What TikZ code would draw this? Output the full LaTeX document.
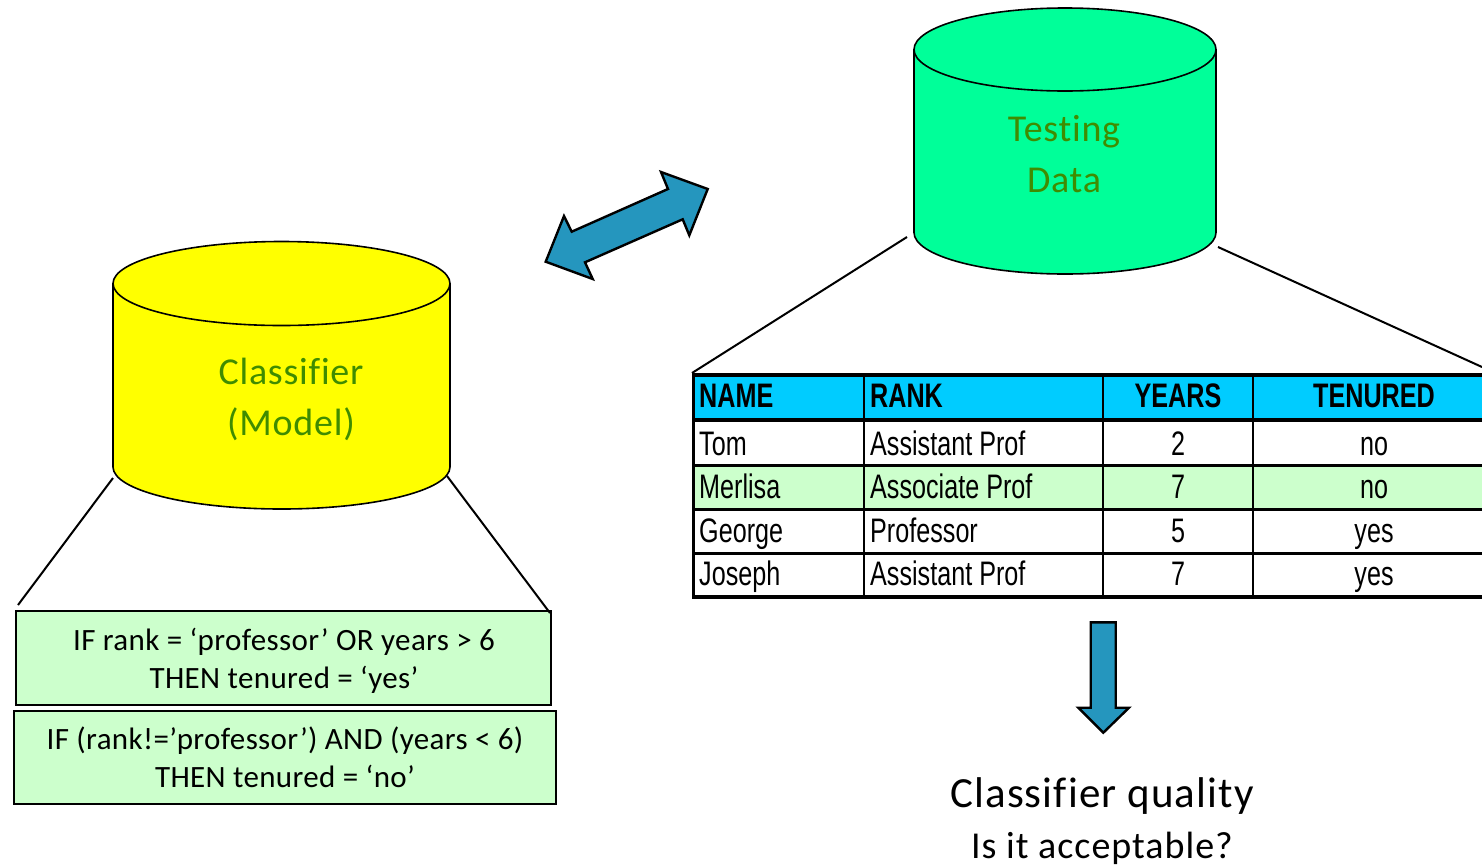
\documentclass[tikz,border=0pt]{standalone}
\usepackage{fontspec}
\setmainfont{Carlito}[Ligatures={NoCommon}]
\newfontfamily\tablefont[FakeStretch=0.74]{Liberation Sans}
\newfontfamily\rulefont[LetterSpace=1.2,Ligatures={NoCommon}]{Carlito}
\newfontfamily\drumfont[LetterSpace=2,Ligatures={NoCommon}]{Carlito}
\newfontfamily\askfont[LetterSpace=2.6,Ligatures={NoCommon}]{Carlito}
\definecolor{arrowblue}{HTML}{2596BE}
\definecolor{headblue}{HTML}{00CCFF}
\definecolor{rowgreen}{HTML}{CCFFCC}
\definecolor{testgreen}{HTML}{00FF99}
\definecolor{drumyellow}{HTML}{FFFF00}
\definecolor{labelgreen}{HTML}{3F8C00}
\tikzset{
    drum/.style={draw=black, line width=1.6pt},
    drumtext/.style={text=labelgreen, font=\drumfont\fontsize{38}{51}\selectfont, align=center},
    wire/.style={draw=black, line width=2pt},
    rulebox/.style={draw=black, line width=2.4pt, fill=rowgreen, inner sep=0pt, outer sep=0pt},
    ruletext/.style={align=center, inner sep=0pt, font=\rulefont\fontsize{31}{38}\selectfont},
    blockarrow/.style={draw=black, line width=2.4pt, fill=arrowblue, line join=miter},
    celltext/.style={font=\tablefont\fontsize{34}{34}\selectfont, inner sep=0pt},
    headtext/.style={font=\tablefont\bfseries\fontsize{34}{34}\selectfont, inner sep=0pt},
    asktext/.style={font=\askfont\fontsize{#1}{#1}\selectfont, inner sep=0pt}
}
\begin{document}
\begin{tikzpicture}[x=1pt, y=-1pt]
    \useasboundingbox (0,0) rectangle (1482,865);
    % Drums and their labels:
    \draw[drum, fill=testgreen] (914, 49.5) -- (914, 232.5) arc[start angle=180, end angle=360, x radius=151pt, y radius=41.5pt] -- (1216, 49.5) arc[start angle=0, end angle=180, x radius=151pt, y radius=41.5pt] -- cycle;
    \draw[drum] (914, 49.5) arc[start angle=180, end angle=360, x radius=151pt, y radius=41.5pt];
    \node[drumtext] (testinglabel) at (1064, 154){Testing\\Data};
    \draw[drum, fill=drumyellow] (113, 283.5) -- (113, 467) arc[start angle=180, end angle=360, x radius=168.5pt, y radius=42pt] -- (450, 283.5) arc[start angle=0, end angle=180, x radius=168.5pt, y radius=42pt] -- cycle;
    \draw[drum] (113, 283.5) arc[start angle=180, end angle=360, x radius=168.5pt, y radius=42pt];
    \node[drumtext] (classifierlabel) at (291, 399){Classifier\\(Model)};
    % Rule boxes:
    \node[rulebox, minimum width=535pt, minimum height=94pt](ruleyes) at (283.5, 658){};
    \node[ruletext] (ruleyestext) at (284, 661){IF rank = ‘professor’ OR years > 6\\THEN tenured = ‘yes’};
    \node[rulebox, minimum width=542pt, minimum height=93pt](ruleno) at (285, 757.5){};
    \node[ruletext] (rulenotext) at (285, 757.5){IF (rank!=’professor’) AND (years < 6)\\THEN tenured = ‘no’};
    % Table fills and rules:
    \fill[headblue] (693, 375) rectangle (1482, 420);
    \fill[rowgreen] (693, 465) rectangle (1482, 509);
    \draw[line width=4pt] (692, 375) -- (1482, 375);
    \draw[line width=4pt] (693, 420) -- (1482, 420);
    \draw[line width=3pt] (693, 465) -- (1482, 465);
    \draw[line width=3pt] (693, 509) -- (1482, 509);
    \draw[line width=3pt] (693, 553) -- (1482, 553);
    \draw[line width=4pt] (692, 597) -- (1482, 597);
    \foreach \colx/\colw in {693/3, 864/2, 1103/2, 1253/2}
        \draw[line width=\colw pt] (\colx, 375) -- (\colx, 597);
    \foreach \rowy/\rowname/\rowrank/\rowyears/\rowten in {455/Tom/Assistant Prof/2/no, 498/Merlisa/Associate Prof/7/no, 542/George/Professor/5/yes, 585/Joseph/Assistant Prof/7/yes}{
        \node[celltext, anchor=base west] at (699, \rowy){\rowname};
        \node[celltext, anchor=base west] at (870, \rowy){\rowrank};
        \node[celltext, anchor=base] at (1178, \rowy){\rowyears};
        \node[celltext, anchor=base] at (1374, \rowy){\rowten};
    }
    \node[headtext, anchor=base west] (namehead) at (699, 407){NAME};
    \node[headtext, anchor=base west] (rankhead) at (870, 407){RANK};
    \node[headtext, anchor=base] (yearshead) at (1178, 407){YEARS};
    \node[headtext, anchor=base] (tenuredhead) at (1374, 407){TENURED};
    % Wires:
    \coordinate (TL) at (907, 237);
    \coordinate (TT) at (692, 373);
    \coordinate (TR) at (1218, 247);
    \coordinate (TS) at (1482, 367);
    \coordinate (CL) at (113, 478);
    \coordinate (CB) at (18, 605);
    \coordinate (CR) at (447, 476);
    \coordinate (CS) at (550, 613);
    \draw[wire] (TL) -- (TT);
    \draw[wire] (TR) -- (TS);
    \draw[wire] (CL) -- (CB);
    \draw[wire] (CR) -- (CS);
    % Block arrows:
    \draw[blockarrow] (707.7, 189) -- (661, 172) -- (668, 189) -- (571.7, 231.7) -- (564, 216) -- (545.7, 261.7) -- (592.7, 279) -- (585, 262.3) -- (682.7, 219.3) -- (689.3, 235.3) -- cycle;
    \draw[blockarrow] (1090.7, 622.3) -- (1115.7, 622.3) -- (1115.7, 707.7) -- (1129, 707.7) -- (1103.3, 732.7) -- (1078.3, 707.7) -- (1090.7, 707.7) -- cycle;
    % Question below the table:
    \node[asktext=43] (quality) at (1102, 796){Classifier quality};
    \node[asktext=38] (acceptable) at (1102, 848){Is it acceptable?};
\end{tikzpicture}
\end{document}
